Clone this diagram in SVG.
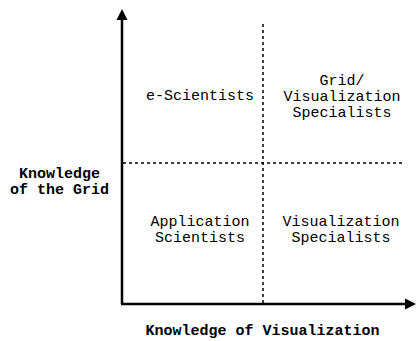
<svg xmlns="http://www.w3.org/2000/svg" width="417" height="341" viewBox="0 0 417 341">
  <style>
    .axis { stroke: #000; stroke-width: 2.5; fill: none; }
    .div { stroke: #000; stroke-width: 1.5; stroke-dasharray: 3 3; fill: none; }
    .cell { font-family: "Liberation Mono", "Courier New", monospace; font-size: 15px; text-anchor: middle; fill: #000; }
    .lbl { font-family: "Liberation Mono", "Courier New", monospace; font-size: 15px; font-weight: bold; text-anchor: middle; fill: #000; }
  </style>
  <rect width="417" height="341" fill="#fff"/>
  <g id="connectors">
    <!-- quadrant dividers -->
    <line class="div" x1="263" y1="24" x2="263" y2="303"/>
    <line class="div" x1="123" y1="163" x2="405" y2="163"/>
    <!-- axes -->
    <line class="axis" x1="122" y1="20" x2="122" y2="304"/>
    <line class="axis" x1="121" y1="304" x2="407" y2="304"/>
    <polygon points="122,9 116.5,20 127.5,20" fill="#000"/>
    <polygon points="416,304 405,298.5 405,309.5" fill="#000"/>
  </g>
  <g id="e-scientists">
    <text class="cell" x="200" y="100">e-Scientists</text>
  </g>
  <g id="grid-vis-specialists">
    <text class="cell" x="342" y="84.5">Grid/</text>
    <text class="cell" x="342" y="100.5">Visualization</text>
    <text class="cell" x="342" y="116.5">Specialists</text>
  </g>
  <g id="application-scientists">
    <text class="cell" x="200" y="225.5">Application</text>
    <text class="cell" x="200" y="241.5">Scientists</text>
  </g>
  <g id="vis-specialists">
    <text class="cell" x="341" y="225.5">Visualization</text>
    <text class="cell" x="341" y="241.5">Specialists</text>
  </g>
  <g id="y-label">
    <text class="lbl" x="59.5" y="178">Knowledge</text>
    <text class="lbl" x="59.5" y="194">of the Grid</text>
  </g>
  <g id="x-label">
    <text class="lbl" x="262.5" y="335">Knowledge of Visualization</text>
  </g>
</svg>
